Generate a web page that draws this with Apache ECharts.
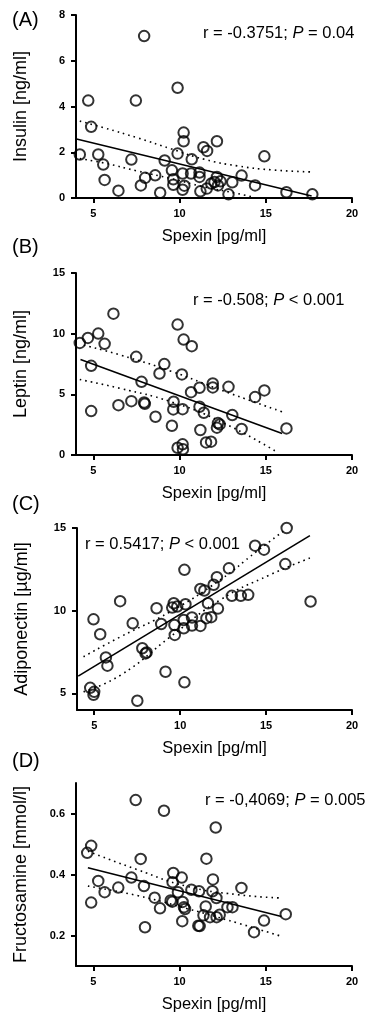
<!DOCTYPE html>
<html>
<head>
<meta charset="utf-8">
<style>
  html, body { margin: 0; padding: 0; background: #fff; }
  #chart { width: 373px; height: 1015px; }
</style>
<script src="https://cdn.jsdelivr.net/npm/echarts@6/dist/echarts.min.js"></script>
</head>
<body>
<div id="chart"></div>
<script>
// x = spexin [pg/ml]
const insulinPts = [
  [7.95, 7.08], [4.71, 4.26], [7.47, 4.26], [9.89, 4.82], [4.88, 3.11], [10.24, 2.86],
  [10.24, 2.48], [12.17, 2.48], [11.39, 2.22], [11.60, 2.06], [4.22, 1.90], [5.29, 1.90],
  [5.58, 1.46], [7.21, 1.68], [9.89, 1.94], [9.14, 1.64], [10.71, 1.69], [14.92, 1.82],
  [5.66, 0.79], [6.46, 0.32], [7.76, 0.55], [8.01, 0.88], [8.59, 0.99], [8.88, 0.23],
  [9.56, 1.21], [9.64, 0.82], [9.64, 0.58], [10.18, 1.07], [10.28, 0.54], [10.18, 0.36],
  [10.67, 1.07], [11.16, 1.11], [11.16, 0.92], [11.21, 0.29], [11.58, 0.41], [11.84, 0.63],
  [12.03, 0.70], [12.17, 0.92], [12.23, 0.55], [12.38, 0.73], [12.84, 0.16], [13.06, 0.69],
  [13.60, 0.98], [14.38, 0.55], [16.20, 0.25], [17.70, 0.16]
];
const insulinFit = [[4.03, 2.58], [17.66, 0.09]];
const insulinUpper = [[4.22, 3.36], [5.62, 3.07], [7.56, 2.63], [9.50, 2.15], [11.45, 1.69], [13.39, 1.40], [15.33, 1.23], [17.66, 1.14]];
const insulinLower = [[4.22, 1.72], [5.62, 1.53], [7.56, 1.18], [9.50, 0.85], [11.45, 0.48], [13.39, 0.19], [14.26, 0.04]];

const leptinPts = [
  [6.17, 11.65], [4.22, 9.24], [4.69, 9.65], [5.29, 10.01], [5.66, 9.16], [4.88, 7.35],
  [4.88, 3.62], [9.89, 10.75], [10.24, 9.51], [10.71, 8.97], [7.49, 8.09], [9.12, 7.49],
  [8.84, 6.72], [10.14, 6.64], [7.80, 6.03], [6.46, 4.11], [7.21, 4.44], [7.95, 4.33],
  [7.99, 4.22], [8.61, 3.15], [9.66, 4.39], [9.64, 3.76], [10.18, 3.78], [9.56, 2.41],
  [9.89, 0.60], [10.18, 0.88], [10.20, 0.47], [10.67, 5.18], [11.16, 5.54], [11.93, 5.90],
  [11.93, 5.57], [12.84, 5.62], [11.16, 3.98], [11.41, 3.48], [11.21, 2.06], [11.54, 1.04],
  [11.83, 1.10], [12.17, 2.25], [12.23, 2.63], [12.33, 2.52], [13.06, 3.29], [13.60, 2.14],
  [14.38, 4.77], [14.92, 5.32], [16.20, 2.19]
];
const leptinFit = [[4.26, 7.87], [15.95, 1.78]];
const leptinUpper = [[4.46, 9.05], [6.59, 8.23], [9.50, 6.91], [12.41, 5.35], [15.95, 3.56]];
const leptinLower = [[4.22, 6.22], [6.59, 5.48], [9.50, 4.39], [12.41, 2.74], [15.62, 0.27]];

const adipoPts = [
  [16.20, 15.0], [14.36, 13.93], [14.88, 13.69], [16.12, 12.82], [17.59, 10.56], [10.25, 12.47],
  [12.84, 12.56], [12.14, 12.03], [11.95, 11.57], [11.18, 11.32], [11.41, 11.22], [13.01, 10.90],
  [13.53, 10.90], [13.96, 10.96], [6.51, 10.58], [8.63, 10.15], [9.63, 10.45], [9.83, 10.25],
  [10.31, 10.39], [9.54, 10.19], [11.62, 10.45], [12.20, 10.13], [4.96, 9.48], [7.24, 9.24],
  [8.90, 9.20], [9.67, 9.14], [10.21, 9.44], [10.21, 8.94], [10.69, 9.59], [10.69, 9.10],
  [11.18, 9.08], [11.53, 9.55], [11.81, 9.61], [5.35, 8.58], [9.69, 8.54], [5.68, 7.18],
  [5.77, 6.68], [7.80, 7.73], [7.99, 7.42], [8.05, 7.48], [9.15, 6.31], [10.25, 5.67],
  [4.77, 5.34], [5.00, 5.10], [4.96, 4.92], [7.51, 4.56]
];
const adipoFit = [[4.07, 6.05], [17.55, 14.54]];
const adipoUpper = [[4.38, 7.22], [6.54, 8.43], [9.44, 9.95], [12.34, 11.87], [14.46, 13.59], [16.0, 14.8]];
const adipoLower = [[4.38, 5.10], [6.54, 6.11], [9.44, 8.43], [12.34, 10.66], [15.23, 12.17], [17.55, 13.18]];

const fructPts = [
  [7.46, 0.644], [9.10, 0.609], [12.10, 0.554], [4.65, 0.471], [4.88, 0.494], [7.75, 0.451],
  [11.56, 0.452], [9.64, 0.405], [10.13, 0.390], [9.60, 0.375], [11.94, 0.384], [7.21, 0.390],
  [5.29, 0.379], [5.66, 0.342], [6.45, 0.357], [7.94, 0.362], [4.88, 0.308], [8.56, 0.324],
  [8.87, 0.289], [9.49, 0.315], [9.58, 0.311], [9.91, 0.342], [10.18, 0.310], [10.26, 0.293],
  [10.32, 0.287], [10.16, 0.247], [10.69, 0.350], [11.13, 0.345], [11.91, 0.345], [12.14, 0.323],
  [11.52, 0.295], [11.39, 0.266], [11.77, 0.260], [12.15, 0.260], [12.33, 0.268], [11.09, 0.232],
  [11.17, 0.231], [12.78, 0.293], [13.07, 0.293], [13.59, 0.356], [8.00, 0.227], [14.90, 0.249],
  [14.32, 0.211], [16.16, 0.270]
];
const fructFit = [[4.69, 0.422], [15.91, 0.262]];
const fructUpper = [[4.69, 0.476], [7.55, 0.416], [10.45, 0.361], [13.36, 0.334], [15.87, 0.323]];
const fructLower = [[4.69, 0.362], [7.55, 0.331], [10.45, 0.288], [13.36, 0.241], [15.87, 0.198]];

const xTicks = [5, 10, 15, 20];
const panelLabels = ['(A)', '(B)', '(C)', '(D)'];
const yNames = ['Insulin [ng/ml]', 'Leptin [ng/ml]', 'Adiponectin [\u00b5g/ml]', 'Fructosamine [mmol/l]'];
const stats = [
  ['r = -0.3751; ', ' = 0.04'],
  ['r = -0.508; ', ' < 0.001'],
  ['r = 0.5417; ', ' < 0.001'],
  ['r = -0,4069; ', ' = 0.005']
];

const font = '"Liberation Sans", Arial, sans-serif';
const chart = echarts.init(document.getElementById('chart'));

const grids = [
  { left: 76, right: 21, top: 15, height: 183 },
  { left: 76, right: 21, top: 273, height: 182 },
  { left: 77, right: 21, top: 528, height: 182 },
  { left: 76, right: 21, top: 783, height: 183 }
];
const yRanges = [
  { min: 0, max: 8, ticks: [0, 2, 4, 6, 8] },
  { min: 0, max: 15, ticks: [0, 5, 10, 15] },
  { min: 4, max: 15, ticks: [5, 10, 15] },
  { min: 0.1, max: 0.7, ticks: [0.2, 0.4, 0.6] }
];
const labelPos = [[12, 10], [12, 237], [12, 494], [12, 751]];
const statPos = [[203, 25], [193, 292], [85, 536], [205, 792]];

const axisLine = { lineStyle: { color: '#000', width: 2 } };
const axisTick = (vals) => ({ show: true, length: 5, lineStyle: { color: '#000', width: 2 }, customValues: vals });
const tickLabel = (vals) => ({
  color: '#000', fontWeight: 'bold', fontSize: 11, fontFamily: font, margin: 10, customValues: vals
});

const xAxes = grids.map((g, i) => ({
  type: 'value', gridIndex: i, min: 4, max: 20,
  name: 'Spexin [pg/ml]', nameLocation: 'middle', nameGap: 30,
  nameTextStyle: { color: '#000', fontSize: 16.5, fontWeight: 'normal', fontFamily: font },
  axisLine, axisTick: axisTick(xTicks), axisLabel: tickLabel(xTicks),
  splitLine: { show: false }
}));
const yAxes = grids.map((g, i) => ({
  type: 'value', gridIndex: i, min: yRanges[i].min, max: yRanges[i].max,
  name: yNames[i], nameLocation: 'middle', nameGap: 46,
  nameTextStyle: { color: '#000', fontSize: 18, fontWeight: 'normal', fontFamily: font },
  axisLine, axisTick: axisTick(yRanges[i].ticks),
  axisLabel: Object.assign(tickLabel(yRanges[i].ticks), { margin: 11 }),
  splitLine: { show: false }
}));

const panels = [
  [insulinPts, insulinFit, insulinUpper, insulinLower],
  [leptinPts, leptinFit, leptinUpper, leptinLower],
  [adipoPts, adipoFit, adipoUpper, adipoLower],
  [fructPts, fructFit, fructUpper, fructLower]
];

const series = [];
panels.forEach((p, i) => {
  const dotted = { color: '#000', width: 1.6, type: [1.6, 4] };
  series.push({
    type: 'line', xAxisIndex: i, yAxisIndex: i, data: p[2], smooth: true,
    symbol: 'none', lineStyle: dotted, silent: true
  });
  series.push({
    type: 'line', xAxisIndex: i, yAxisIndex: i, data: p[3], smooth: true,
    symbol: 'none', lineStyle: dotted, silent: true
  });
  series.push({
    type: 'line', xAxisIndex: i, yAxisIndex: i, data: p[1],
    symbol: 'none', lineStyle: { color: '#000', width: 1.6 }, silent: true
  });
  series.push({
    type: 'scatter', xAxisIndex: i, yAxisIndex: i, data: p[0],
    symbol: 'circle', symbolSize: 10.5,
    itemStyle: { color: 'rgba(0,0,0,0)', borderColor: '#000', borderWidth: 2 }
  });
});

const titles = [];
panelLabels.forEach((t, i) => {
  titles.push({
    text: t, left: labelPos[i][0], top: labelPos[i][1], padding: 0,
    textStyle: { color: '#000', fontSize: 20, fontWeight: 'normal', fontFamily: font }
  });
});
stats.forEach((s, i) => {
  titles.push({
    text: '{n|' + s[0] + '}{i|P}{n|' + s[1] + '}',
    left: statPos[i][0], top: statPos[i][1], padding: 0,
    textStyle: {
      fontWeight: 'normal',
      rich: {
        n: { color: '#000', fontSize: 16.5, fontWeight: 'normal', fontFamily: font },
        i: { color: '#000', fontSize: 16.5, fontWeight: 'normal', fontFamily: font, fontStyle: 'italic' }
      }
    }
  });
});

chart.setOption({
  animation: false,
  backgroundColor: '#fff',
  title: titles,
  grid: grids,
  xAxis: xAxes,
  yAxis: yAxes,
  series
});
</script>
</body>
</html>
